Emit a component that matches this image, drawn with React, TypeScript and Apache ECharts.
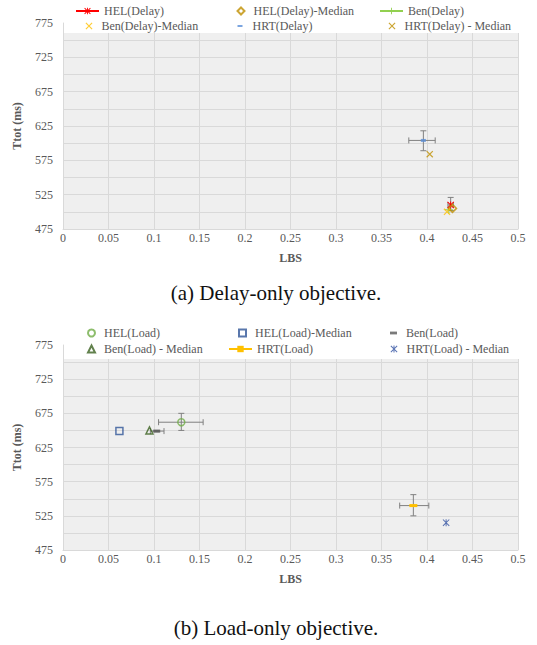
import React, { useEffect, useRef } from 'react';
import * as echarts from 'echarts';

const xTickLabels = ['0', '0.05', '0.1', '0.15', '0.2', '0.25', '0.3', '0.35', '0.4', '0.45', '0.5'];
const yTickLabels = ['475', '525', '575', '625', '675', '725', '775'];

// Delay-only objective: [LBS, Ttot]
const helDelay = [[0.426, 510]];
const helDelayMedian = [[0.428, 505]];
const benDelay = [[0.424, 503]];
const benDelayMedian = [[0.422, 500]];
const hrtDelay = [[0.396, 604]];
const hrtDelayMedian = [[0.403, 584]];
// error bars: [x, y, xLow, xHigh, yLow, yHigh]
const delayErrorBars = [
  [0.426, 510, 0.423, 0.429, 502, 521],
  [0.396, 604, 0.380, 0.409, 589, 618],
];

// Load-only objective
const helLoad = [[0.130, 662]];
const helLoadMedian = [[0.062, 649]];
const benLoad = [[0.103, 649]];
const benLoadMedian = [[0.095, 650]];
const hrtLoad = [[0.385, 540]];
const hrtLoadMedian = [[0.421, 515]];
const loadErrorBars = [
  [0.130, 662, 0.105, 0.154, 650, 675],
  [0.103, 649, 0.096, 0.111, 648, 650],
  [0.385, 540, 0.370, 0.402, 525, 556],
];

const FONT = '"Liberation Serif", "DejaVu Serif", serif';
const STAR = 'path://M4.3,0 H5.7 V10 H4.3 Z M0,1 L1,0 L10,9 L9,10 Z M9,0 L10,1 L1,10 L0,9 Z';
const PLUS = 'path://M4.3,0 H5.7 V4.3 H10 V5.7 H5.7 V10 H4.3 V5.7 H0 V4.3 H4.3 Z';
const XMARK = 'path://M0,1.2 L1.2,0 L10,8.8 L8.8,10 Z M8.8,0 L10,1.2 L1.2,10 L0,8.8 Z';
const DASH = 'path://M0,0 H10 V4 H0 Z';
const OPEN = 'rgba(255,255,255,0)';

function errorSeries(data: number[][], idx: number) {
  return {
    type: 'custom',
    xAxisIndex: idx,
    yAxisIndex: idx,
    z: 2,
    silent: true,
    data,
    encode: { x: 0, y: 1 },
    renderItem: (params: any, api: any) => {
      const x = api.value(0), y = api.value(1);
      const xl = api.value(2), xh = api.value(3), yl = api.value(4), yh = api.value(5);
      const pL = api.coord([xl, y]);
      const pH = api.coord([xh, y]);
      const pB = api.coord([x, yl]);
      const pT = api.coord([x, yh]);
      const st = { stroke: '#808080', lineWidth: 1 };
      const c = 3;
      return {
        type: 'group',
        children: [
          { type: 'line', shape: { x1: pL[0], y1: pL[1], x2: pH[0], y2: pH[1] }, style: st },
          { type: 'line', shape: { x1: pL[0], y1: pL[1] - c, x2: pL[0], y2: pL[1] + c }, style: st },
          { type: 'line', shape: { x1: pH[0], y1: pH[1] - c, x2: pH[0], y2: pH[1] + c }, style: st },
          { type: 'line', shape: { x1: pB[0], y1: pB[1], x2: pT[0], y2: pT[1] }, style: st },
          { type: 'line', shape: { x1: pB[0] - c, y1: pB[1], x2: pB[0] + c, y2: pB[1] }, style: st },
          { type: 'line', shape: { x1: pT[0] - c, y1: pT[1], x2: pT[0] + c, y2: pT[1] }, style: st },
        ],
      };
    },
  };
}

// text start = left + w + 5 + pad
function leg(name: string, left: number, rowY: number, w: number, h: number, pad: number) {
  return {
    data: [name],
    left,
    top: rowY - 7,
    padding: 0,
    itemWidth: w,
    itemHeight: h,
    selectedMode: false,
    z: 60,
    textStyle: { fontFamily: FONT, fontSize: 12, color: '#595959', lineHeight: 14, padding: [0, 0, 0, pad] },
  };
}

function xAxis(idx: number) {
  return {
    type: 'value',
    gridIndex: idx,
    min: 0,
    max: 0.5,
    interval: 0.05,
    name: 'LBS',
    nameLocation: 'middle',
    nameGap: 23,
    nameTextStyle: { fontFamily: FONT, fontSize: 12, fontWeight: 'bold', color: '#595959' },
    axisLine: { show: true, lineStyle: { color: '#d9d9d9' } },
    axisTick: { show: false },
    axisLabel: {
      fontFamily: FONT, fontSize: 12, color: '#595959', margin: 3,
      formatter: (_v: number, i: number) => xTickLabels[i] ?? '',
    },
    splitLine: { show: true, lineStyle: { color: '#d9d9d9' } },
  };
}

function yAxis(idx: number) {
  return {
    type: 'value',
    gridIndex: idx,
    min: 475,
    max: 775,
    interval: 25,
    name: 'Ttot (ms)',
    nameLocation: 'middle',
    nameGap: 40,
    nameTextStyle: { fontFamily: FONT, fontSize: 12, fontWeight: 'bold', color: '#595959' },
    axisLine: { show: true, lineStyle: { color: '#d9d9d9' } },
    axisTick: { show: false },
    axisLabel: {
      fontFamily: FONT, fontSize: 12, color: '#595959', margin: 10,
      formatter: (v: number) => (yTickLabels.includes(String(Math.round(v))) ? String(Math.round(v)) : ''),
    },
    splitLine: { show: true, lineStyle: { color: '#d9d9d9' } },
  };
}

export default function App() {
  const ref = useRef<HTMLDivElement>(null);
  useEffect(() => {
    document.body.style.margin = '0';
    if (!ref.current) return;
    const chart = echarts.init(ref.current, undefined, { renderer: 'svg' });
    const option: any = {
      animation: false,
      backgroundColor: '#ffffff',
      textStyle: { fontFamily: FONT },
      grid: [
        { left: 63, top: 23, width: 455, height: 206, show: true, backgroundColor: '#efefef', borderWidth: 0 },
        { left: 63, top: 345, width: 455, height: 205, show: true, backgroundColor: '#efefef', borderWidth: 0 },
      ],
      xAxis: [xAxis(0), xAxis(1)],
      yAxis: [yAxis(0), yAxis(1)],
      legend: [
        leg('HEL(Delay)', 75, 11, 23, 8, 0),
        leg('HEL(Delay)-Median', 236.5, 11, 7, 7, 4),
        leg('Ben(Delay)', 379, 11, 23, 8, 0),
        leg('Ben(Delay)-Median', 85.5, 26, 7, 7, 4),
        leg('HRT(Delay)', 237.5, 26, 5, 3, 5),
        leg('HRT(Delay) - Median', 388.5, 26, 7, 7, 4),
        leg('HEL(Load)', 87, 333, 7, 7, 4),
        leg('HEL(Load)-Median', 238, 333, 7, 7, 4),
        leg('Ben(Load)', 390, 333, 7, 3, 4),
        leg('Ben(Load) - Median', 87, 349, 7, 7, 4),
        leg('HRT(Load)', 228, 349, 23, 8, 0),
        leg('HRT(Load) - Median', 390.5, 349, 7, 7, 4),
      ],
      graphic: {
        elements: [
          { type: 'rect', z: 50, silent: true, shape: { x: 64, y: 22, width: 456, height: 11 }, style: { fill: '#ffffff' } },
          { type: 'rect', z: 50, silent: true, shape: { x: 64, y: 344, width: 456, height: 15 }, style: { fill: '#ffffff' } },
          {
            type: 'text', z: 50, x: 276, y: 293,
            style: { text: '(a) Delay-only objective.', fontFamily: FONT, fontSize: 21, fill: '#111', align: 'center', verticalAlign: 'middle' },
          },
          {
            type: 'text', z: 50, x: 276, y: 628,
            style: { text: '(b) Load-only objective.', fontFamily: FONT, fontSize: 21, fill: '#111', align: 'center', verticalAlign: 'middle' },
          },
        ],
      },
      series: [
        errorSeries(delayErrorBars, 0),
        { name: 'Ben(Delay)', type: 'line', xAxisIndex: 0, yAxisIndex: 0, z: 3, data: benDelay, symbol: PLUS, symbolSize: 8, itemStyle: { color: '#92d050' }, lineStyle: { color: '#92d050', width: 2 } },
        { name: 'HEL(Delay)', type: 'line', xAxisIndex: 0, yAxisIndex: 0, z: 4, data: helDelay, symbol: STAR, symbolSize: 7, itemStyle: { color: '#ff0000' }, lineStyle: { color: '#ff0000', width: 2 } },
        { name: 'HEL(Delay)-Median', type: 'scatter', xAxisIndex: 0, yAxisIndex: 0, z: 5, data: helDelayMedian, symbol: 'diamond', symbolSize: 8, itemStyle: { color: OPEN, borderColor: '#bf8f00', borderWidth: 1.5 } },
        { name: 'Ben(Delay)-Median', type: 'scatter', xAxisIndex: 0, yAxisIndex: 0, z: 6, data: benDelayMedian, symbol: XMARK, symbolSize: 7, itemStyle: { color: '#ffc000' } },
        { name: 'HRT(Delay)', type: 'scatter', xAxisIndex: 0, yAxisIndex: 0, z: 5, data: hrtDelay, symbol: DASH, symbolSize: [5, 3], itemStyle: { color: '#5a8ed8' } },
        { name: 'HRT(Delay) - Median', type: 'scatter', xAxisIndex: 0, yAxisIndex: 0, z: 5, data: hrtDelayMedian, symbol: XMARK, symbolSize: 7, itemStyle: { color: '#bf9000' } },

        errorSeries(loadErrorBars, 1),
        { name: 'HEL(Load)', type: 'scatter', xAxisIndex: 1, yAxisIndex: 1, z: 5, data: helLoad, symbol: 'circle', symbolSize: 7, itemStyle: { color: OPEN, borderColor: '#70ad47', borderWidth: 1.5 } },
        { name: 'HEL(Load)-Median', type: 'scatter', xAxisIndex: 1, yAxisIndex: 1, z: 5, data: helLoadMedian, symbol: 'rect', symbolSize: 7, itemStyle: { color: OPEN, borderColor: '#2f5597', borderWidth: 1.5 } },
        { name: 'Ben(Load)', type: 'scatter', xAxisIndex: 1, yAxisIndex: 1, z: 4, data: benLoad, symbol: DASH, symbolSize: [7, 3], itemStyle: { color: '#595959' } },
        { name: 'Ben(Load) - Median', type: 'scatter', xAxisIndex: 1, yAxisIndex: 1, z: 5, data: benLoadMedian, symbol: 'triangle', symbolSize: 7, itemStyle: { color: OPEN, borderColor: '#3b6121', borderWidth: 1.5 } },
        { name: 'HRT(Load)', type: 'line', xAxisIndex: 1, yAxisIndex: 1, z: 5, data: hrtLoad, symbol: DASH, symbolSize: [8, 3], itemStyle: { color: '#ffc000' }, lineStyle: { color: '#ffc000', width: 3 } },
        { name: 'HRT(Load) - Median', type: 'scatter', xAxisIndex: 1, yAxisIndex: 1, z: 5, data: hrtLoadMedian, symbol: STAR, symbolSize: 7, itemStyle: { color: '#2e4fa0' } },
      ],
    };
    chart.setOption(option);
    return () => chart.dispose();
  }, []);
  return <div ref={ref} style={{ width: 537, height: 645 }} />;
}
